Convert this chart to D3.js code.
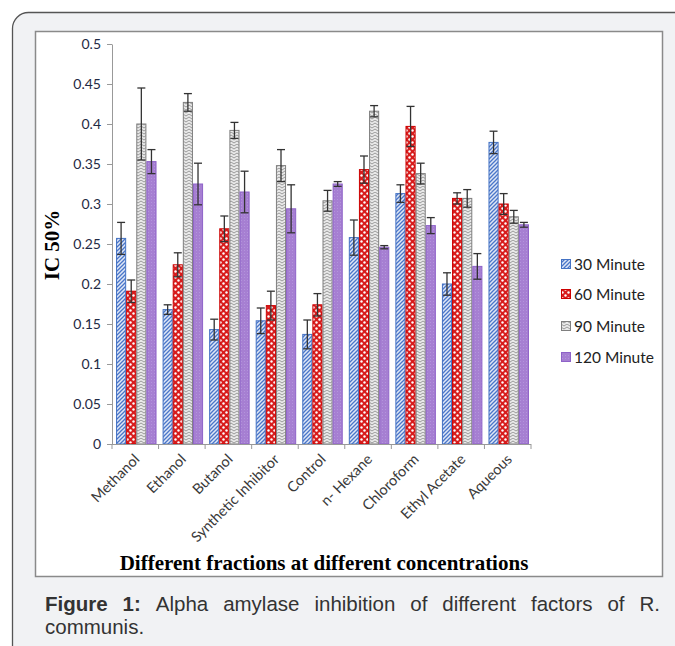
<!DOCTYPE html>
<html><head><meta charset="utf-8">
<script src="https://cdn.jsdelivr.net/npm/d3@7"></script>
<style>
html,body{margin:0;padding:0;background:#fff;}
svg{display:block;}
</style></head>
<body>
<svg id="c" width="675" height="646"></svg>
<script>
const categories = ["Methanol","Ethanol","Butanol","Synthetic Inhibitor","Control","n- Hexane","Chloroform","Ethyl Acetate","Aqueous"];
const seriesNames = ["30 Minute","60 Minute","90 Minute","120 Minute"];
const min30  = [0.257,0.168,0.143,0.154,0.137,0.258,0.313,0.200,0.377];
const min60  = [0.191,0.224,0.269,0.173,0.174,0.343,0.397,0.307,0.300];
const min90  = [0.400,0.427,0.392,0.348,0.304,0.416,0.338,0.307,0.284];
const min120 = [0.353,0.325,0.315,0.294,0.325,0.246,0.273,0.222,0.274];
const err30  = [0.020,0.006,0.013,0.016,0.018,0.022,0.011,0.014,0.014];
const err60  = [0.014,0.015,0.016,0.018,0.014,0.017,0.025,0.007,0.013];
const err90  = [0.045,0.011,0.010,0.020,0.013,0.007,0.013,0.011,0.008];
const err120 = [0.015,0.026,0.026,0.030,0.003,0.002,0.010,0.016,0.003];
const yTicks = [0,0.05,0.1,0.15,0.2,0.25,0.3,0.35,0.4,0.45,0.5];

const values = [min30,min60,min90,min120];
const errors = [err30,err60,err90,err120];

const svg = d3.select("#c");
svg.append("rect").attr("x",0).attr("y",0).attr("width",675).attr("height",646).attr("fill","#fff");
svg.append("rect").attr("x",12.5).attr("y",12.5).attr("width",700).attr("height",700).attr("rx",16)
  .attr("fill","#f1f2f4").attr("stroke","#555").attr("stroke-width",1.3);
svg.append("rect").attr("x",35.5).attr("y",31.5).attr("width",627).attr("height",545)
  .attr("fill","#fff").attr("stroke","#8a8a8a").attr("stroke-width",1.5);

const defs = svg.append("defs");
const p1 = defs.append("pattern").attr("id","p30").attr("patternUnits","userSpaceOnUse").attr("width",4).attr("height",4);
p1.append("rect").attr("width",4).attr("height",4).attr("fill","#dfe7f6");
p1.append("path").attr("d","M-1,1 l2,-2 M0,4 l4,-4 M3,5 l2,-2").attr("stroke","#4a76c9").attr("stroke-width",1.3);

const p2 = defs.append("pattern").attr("id","p60").attr("patternUnits","userSpaceOnUse").attr("width",6).attr("height",6);
p2.append("rect").attr("width",6).attr("height",6).attr("fill","#d81c1c");
p2.append("circle").attr("cx",1.5).attr("cy",1.5).attr("r",1.2).attr("fill","#fff");
p2.append("circle").attr("cx",4.5).attr("cy",4.5).attr("r",1.2).attr("fill","#fff");

const p3 = defs.append("pattern").attr("id","p90").attr("patternUnits","userSpaceOnUse").attr("width",6).attr("height",6);
p3.append("rect").attr("width",6).attr("height",6).attr("fill","#e9e9e9");
p3.append("path").attr("d","M0,2 l3,-2 l3,2 M0,5 l3,-2 l3,2").attr("stroke","#9a9a9a").attr("stroke-width",1).attr("fill","none");

const p4 = defs.append("pattern").attr("id","p120").attr("patternUnits","userSpaceOnUse").attr("width",3).attr("height",3);
p4.append("rect").attr("width",3).attr("height",3).attr("fill","#a67fd2");
p4.append("rect").attr("x",1).attr("y",1).attr("width",1).attr("height",1).attr("fill","#b394dc");

const fills = ["url(#p30)","url(#p60)","url(#p90)","url(#p120)"];
const strokes = ["#4472c4","#cc0000","#7f7f7f","#8e62c8"];

const x0 = d3.scaleBand().domain(categories).range([112,531]).padding(0);
const x1 = d3.scaleBand().domain(seriesNames).range([1,x0.bandwidth()+1]).paddingInner(0).paddingOuter(0.3);
const y = d3.scaleLinear().domain([0,0.5]).range([444,44]);

const g = svg.append("g");
categories.forEach((c,i)=>{
  seriesNames.forEach((s,j)=>{
    const v = values[j][i];
    g.append("rect").attr("x",x0(c)+x1(s)+0.5).attr("y",y(v)).attr("width",x1.bandwidth()-1)
      .attr("height",y(0)-y(v)).attr("fill",fills[j]).attr("stroke",strokes[j]).attr("stroke-width",1);
  });
});
categories.forEach((c,i)=>{
  seriesNames.forEach((s,j)=>{
    const v = values[j][i], e = errors[j][i];
    const cx = x0(c)+x1(s)+x1.bandwidth()/2;
    const eg = g.append("g").attr("stroke","#333").attr("stroke-width",1.3);
    eg.append("line").attr("x1",cx).attr("x2",cx).attr("y1",y(v+e)).attr("y2",y(v-e));
    eg.append("line").attr("x1",cx-4).attr("x2",cx+4).attr("y1",y(v+e)).attr("y2",y(v+e));
    eg.append("line").attr("x1",cx-4).attr("x2",cx+4).attr("y1",y(v-e)).attr("y2",y(v-e));
  });
});

const yAxis = d3.axisLeft(y).tickValues(yTicks).tickSize(5).tickSizeOuter(0).tickFormat(d=>d===0?"0":String(+d.toFixed(2)));
const ya = svg.append("g").attr("transform","translate(112,0)").call(yAxis);
ya.select(".domain").attr("stroke","#999");
ya.selectAll(".tick line").attr("stroke","#999");
ya.selectAll(".tick text").attr("font-family","Lato, 'Open Sans', sans-serif").attr("font-size",14).attr("fill","#1f2a44").attr("x",-11);

const xa = svg.append("g").attr("transform","translate(0,444)");
xa.append("line").attr("x1",112).attr("x2",531).attr("y1",0.5).attr("y2",0.5).attr("stroke","#999");
const bounds = categories.map(c=>x0(c)).concat([x0(categories[categories.length-1])+x0.bandwidth()]);
bounds.forEach(b=>xa.append("line").attr("x1",b).attr("x2",b).attr("y1",0).attr("y2",5).attr("stroke","#999"));
categories.forEach(c=>{
  const cx = x0(c)+x0.bandwidth()/2-2;
  xa.append("text").attr("transform",`translate(${cx},9) rotate(-45)`).attr("text-anchor","end")
    .attr("font-family","Lato, 'Open Sans', sans-serif").attr("font-size",14.5).attr("fill","#3a3a3a").attr("dy","0.7em").text(c);
});

svg.append("text").attr("transform","translate(59,245) rotate(-90)").attr("text-anchor","middle")
  .attr("font-family","'Liberation Serif', serif").attr("font-weight","bold").attr("font-size",21).attr("fill","#000").text("IC 50%");
svg.append("text").attr("x",324).attr("y",570).attr("text-anchor","middle")
  .attr("font-family","'Liberation Serif', serif").attr("font-weight","bold").attr("font-size",21).attr("fill","#000")
  .text("Different fractions at different concentrations");

const lg = svg.append("g");
const legY = [264,294,326,357];
seriesNames.forEach((s,j)=>{
  const ly = legY[j];
  lg.append("rect").attr("x",561.5).attr("y",ly-4.5).attr("width",9).attr("height",9).attr("fill",fills[j]).attr("stroke",strokes[j]).attr("stroke-width",1);
  lg.append("text").attr("x",574).attr("y",ly+5.5).attr("font-family","Lato, 'Open Sans', sans-serif").attr("font-size",15.5).attr("fill","#222").text(s);
});

const words = ["Figure","1:","Alpha","amylase","inhibition","of","different","factors","of","R."];
const cap = svg.append("g").attr("font-family","'Liberation Sans', Arial, sans-serif").attr("font-size",20.5).attr("fill","#333");
const nodes = words.map((w,i)=>cap.append("text").attr("y",611).attr("font-weight",i<2?"bold":"normal").text(w));
const widths = nodes.map(n=>n.node().getComputedTextLength());
const total = d3.sum(widths);
const left = 45, right = 660;
const gap = (right-left-total)/(words.length-1);
let cx = left;
nodes.forEach((n,i)=>{ n.attr("x",cx); cx += widths[i]+gap; });
cap.append("text").attr("x",45).attr("y",634).text("communis.");
</script>
</body></html>
